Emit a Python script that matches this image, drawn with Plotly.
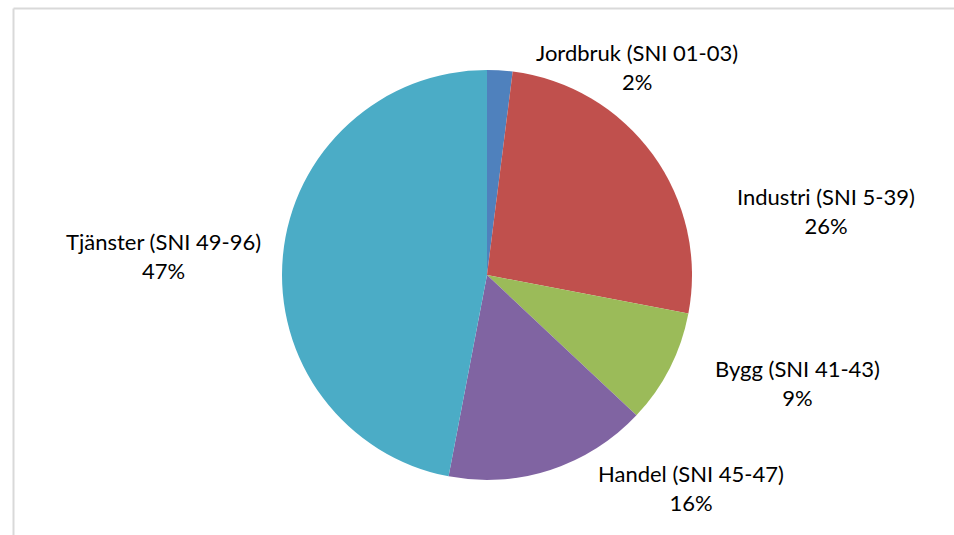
import plotly.graph_objects as go

# Data
categories = ["Jordbruk (SNI 01-03)", "Industri (SNI 5-39)", "Bygg (SNI 41-43)",
              "Handel (SNI 45-47)", "Tjänster (SNI 49-96)"]
shares = [2, 26, 9, 16, 47]
colors = ["#4F81BD", "#C0504D", "#9BBB59", "#8064A2", "#4BACC6"]

W, H = 954, 535
cx, cy, r = 487, 275, 205

fig = go.Figure(go.Pie(
    labels=categories,
    values=shares,
    sort=False,
    direction="clockwise",
    rotation=0,
    textinfo="none",
    hoverinfo="label+percent",
    marker=dict(colors=colors, line=dict(width=0)),
    domain=dict(x=[(cx - r) / W, (cx + r) / W], y=[1 - (cy + r) / H, 1 - (cy - r) / H]),
    showlegend=False,
))

# label block centres (pixels) - layout only
label_pos = [(637, 67), (826, 211), (797, 383), (691, 488), (163, 256)]

total = sum(shares)
for name, val, (lx, ly) in zip(categories, shares, label_pos):
    fig.add_annotation(
        x=lx / W, y=1 - ly / H, xref="paper", yref="paper",
        text=f"{name}<br>{round(100 * val / total)}%",
        showarrow=False, xanchor="center", yanchor="middle",
        font=dict(family="Lato, Open Sans, sans-serif", size=22, color="#000000"),
    )

# chart area border (only top and left edges visible in the crop)
x_left, y_top = 13.5 / W, 1 - 8.5 / H
border = dict(color="#D9D9D9", width=2)
fig.add_shape(type="line", xref="paper", yref="paper",
              x0=x_left, x1=1.0, y0=y_top, y1=y_top, line=border)
fig.add_shape(type="line", xref="paper", yref="paper",
              x0=x_left, x1=x_left, y0=0.0, y1=y_top, line=border)

fig.update_layout(
    width=W, height=H,
    margin=dict(l=0, r=0, t=0, b=0),
    paper_bgcolor="white", plot_bgcolor="white",
)

fig.write_html(
    "out.html",
    config={"displayModeBar": False},
    post_script="document.body.style.margin='0';document.body.style.overflow='hidden';",
)
